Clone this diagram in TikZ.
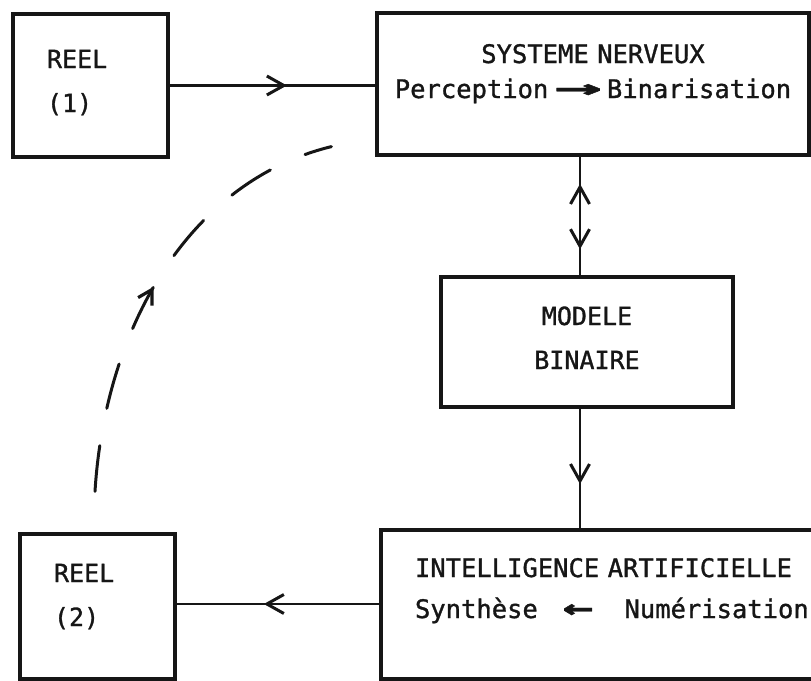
\documentclass[tikz,border=0pt]{standalone}
\usepackage{fontspec}
\newfontfamily\typewriter[RawFeature={embolden=1.2}]{DejaVu Sans Mono}
\usetikzlibrary{arrows.meta, calc, decorations.markings}
\definecolor{ink}{RGB}{22,22,22}
\tikzset{
  panel/.style={rectangle, draw=ink, line width=3.2pt, text=ink,
    inner xsep=34pt, inner ysep=0pt, text height=18pt,
    font={\typewriter\fontsize{25}{44}\selectfont}},
  link/.style={line width=2.8pt, color=ink},
  dashlink/.style={line width=3pt, color=ink, line cap=round,
    dash pattern=on 46pt off 38pt},
  barb/.tip={Straight Barb[length=17pt, width=19pt, line width=3pt]},
  smallbarb/.tip={Straight Barb[length=14pt, width=16pt, line width=3.2pt]},
  midarrow/.style={postaction={decorate}, decoration={markings,
    mark=at position #1 with {\arrow{barb}}}}
}
\begin{document}
\begin{tikzpicture}[x=1pt, y=-1pt]
  \useasboundingbox (0,0) rectangle (811,680);
  \clip (0,0) rectangle (811,680);

  % boxes
  \node[panel, minimum width=155pt, minimum height=143pt, text width=87pt,
    align=left, text depth=53pt] (reel1) at (90.5,85.5) {REEL\\(1)};
  \node[panel, minimum width=432pt, minimum height=142pt, text width=412pt,
    inner xsep=10pt, align=center, text depth=60pt,
    font={\typewriter\fontsize{25.5}{35}\selectfont}] (sys) at (593,84)
    {SYSTEME NERVEUX\\Perception\hspace{6pt}\scalebox{3.1}[1.2]{\bfseries →}\hspace{5pt}Binarisation};
  \node[panel, minimum width=292pt, minimum height=130pt, text width=272pt,
    inner xsep=10pt, align=center, text depth=52pt] (modele) at (587,342)
    {MODELE\\BINAIRE};
  \node[panel, minimum width=478pt, minimum height=149pt, text width=410pt,
    align=left, text depth=73pt,
    font={\typewriter\fontsize{25.5}{41}\selectfont}] (intel) at (620,604.5)
    {INTELLIGENCE ARTIFICIELLE\\Synthèse\hspace{25pt}\scalebox{2}[1.2]{\bfseries ←}\hspace{31pt}Numérisation};
  \node[panel, minimum width=155pt, minimum height=145pt, text width=87pt,
    align=left, text depth=67pt] (reel2) at (97.5,606.5) {REEL\\(2)};

  % helper coordinates
  \coordinate (axis) at (580,0);
  \coordinate (lowrow) at (0,604);
  \coordinate (loopstart) at ($(reel2.north)+(-2.5,-41)$);
  \coordinate (loopend) at ($(sys.south west)+(-44,-10)$);

  % connectors
  \draw[link, midarrow=0.57] (reel1.east) -- (reel1.east -| sys.west);
  \draw[link, postaction={decorate}, decoration={markings,
      mark=at position 0.23 with {\arrowreversed{barb}},
      mark=at position 0.78 with {\arrow{barb}}}]
    (sys.south -| axis) -- (modele.north -| axis);
  \draw[link, midarrow=0.63] (modele.south -| axis) -- (intel.north -| axis);
  \draw[link, midarrow=0.57] (intel.west |- lowrow) -- (reel2.east |- lowrow);
  \draw[dashlink, postaction={decorate}, decoration={markings,
      mark=at position 0.48 with {\arrow{smallbarb}}}]
    (loopstart) .. controls +(10,-163) and +(-143,35) .. (loopend);
\end{tikzpicture}
\end{document}
